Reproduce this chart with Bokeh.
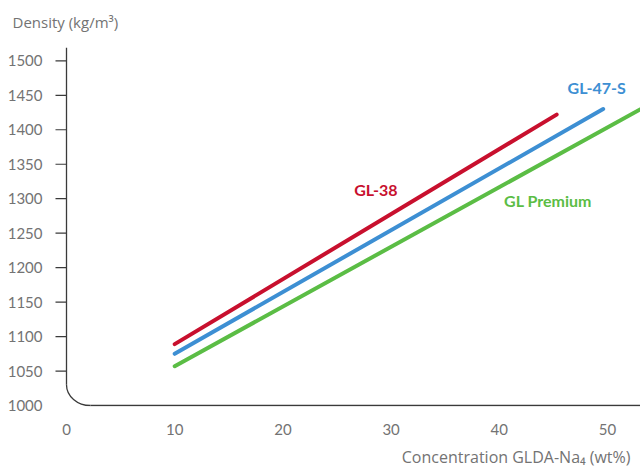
from bokeh.plotting import figure
from bokeh.models import Range1d, FixedTicker, Label, Title
from bokeh.embed import file_html
from bokeh.resources import INLINE

# ---- data ----
conc_gl38 = [10, 45.3]
dens_gl38 = [1089, 1422]
conc_gl47s = [10, 49.6]
dens_gl47s = [1075, 1430]
conc_glprem = [10, 54.0]
dens_glprem = [1057, 1438]

series_names = ["GL-38", "GL-47-S", "GL Premium"]
series_colors = ["#c8102e", "#3d8fd3", "#5bbd45"]
label_x = [28.6, 49.0, 44.5]
label_y = [1314, 1461, 1298]

x_ticks = [0, 10, 20, 30, 40, 50]
y_ticks = [1000, 1050, 1100, 1150, 1200, 1250, 1300, 1350, 1400, 1450, 1500]
y_tick_marks = [1050, 1100, 1150, 1200, 1250, 1300, 1350, 1400, 1450, 1500]

FONT = "Lato"
TFONT = "Open Sans"
GRAY = "#737373"
AXIS = "#3a3a3a"

# scales (px per unit)
PX_X = 10.82
PX_Y = 0.695
x_start, x_end = -12.0 / PX_X, 574.0 / PX_X
y_start, y_end = 1000 - 1.0 / PX_Y, 1000 + 368 / PX_Y

p = figure(width=640, height=473, output_backend="svg", toolbar_location=None,
           x_range=Range1d(x_start, x_end), y_range=Range1d(y_start, y_end),
           min_border_left=54, min_border_right=0, min_border_top=40,
           min_border_bottom=64)
p.outline_line_color = None
p.grid.grid_line_color = None
p.background_fill_color = "white"
p.border_fill_color = "white"

# axes
p.xaxis.ticker = FixedTicker(ticks=x_ticks)
p.yaxis.ticker = FixedTicker(ticks=y_ticks)
for ax in (p.xaxis[0], p.yaxis[0]):
    ax.axis_line_color = None
    ax.major_tick_line_color = None
    ax.minor_tick_line_color = None
    ax.major_label_text_font = FONT
    ax.major_label_text_font_size = "15px"
    ax.major_label_text_color = GRAY
p.xaxis.major_label_standoff = 11
p.yaxis.major_label_standoff = 6

# titles
p.add_layout(Title(text="Density (kg/m³)", align="left", offset=-42,
                   vertical_align="middle",
                   text_font=TFONT, text_font_size="15px", text_color=GRAY,
                   text_font_style="normal", standoff=16), "above")
p.add_layout(Title(text="Concentration GLDA-Na₄ (wt%)", align="right", offset=10,
                   text_font=TFONT, text_font_size="16px", text_color=GRAY,
                   text_font_style="normal", standoff=12), "below")

# tick marks on the left (drawn at the tick values, outside the L axis)
tick_len = 11 / PX_X
p.segment(x0=[-tick_len] * len(y_tick_marks), y0=y_tick_marks,
          x1=[0] * len(y_tick_marks), y1=y_tick_marks,
          line_color=AXIS, line_width=1.2)

# L-shaped axis with rounded corner
rx = 24 / PX_X
ry = 21 / PX_Y
k = 0.55
p.line([0, 0], [1000 + (y_end - 1000) * 0.98, 1000 + ry],
       line_color=AXIS, line_width=1.3)
p.line([rx, x_end], [1000, 1000], line_color=AXIS, line_width=1.3)
p.bezier(x0=[0], y0=[1000 + ry], x1=[rx], y1=[1000],
         cx0=[0], cy0=[1000 + ry * (1 - k)], cx1=[rx * (1 - k)], cy1=[1000],
         line_color=AXIS, line_width=1.3)

# data lines
for xs, ys, c in [(conc_gl38, dens_gl38, series_colors[0]),
                  (conc_gl47s, dens_gl47s, series_colors[1]),
                  (conc_glprem, dens_glprem, series_colors[2])]:
    p.line(xs, ys, line_color=c, line_width=4, line_cap="round")

# series labels
for name, c, lx, ly in zip(series_names, series_colors, label_x, label_y):
    p.add_layout(Label(x=lx, y=ly, text=name, text_color=c, text_font=FONT,
                       text_font_size="16px", text_font_style="bold",
                       text_align="center", text_baseline="middle"))

open("out.html", "w").write(file_html(p, INLINE))
